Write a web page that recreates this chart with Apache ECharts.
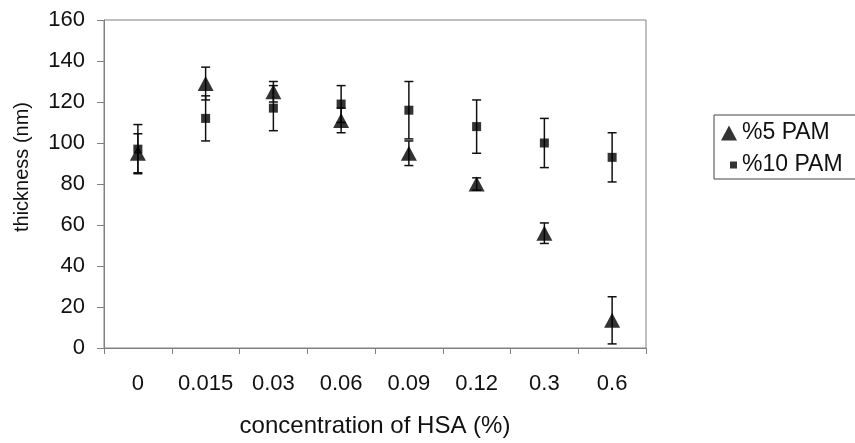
<!DOCTYPE html>
<html>
<head>
<meta charset="utf-8">
<script src="https://cdn.jsdelivr.net/npm/echarts@6/dist/echarts.min.js"></script>
<style>
  html, body { margin: 0; padding: 0; background: #fff; }
  #chart { width: 855px; height: 443px; }
</style>
</head>
<body>
<div id="chart"></div>
<script>
// x categories (HSA concentration, %)
const categories = ["0", "0.015", "0.03", "0.06", "0.09", "0.12", "0.3", "0.6"];
const yTicks = [0, 20, 40, 60, 80, 100, 120, 140, 160];

// thickness (nm)
const pam5 = [95, 129, 125, 111, 95, 80, 56, 13.5];
const pam5Err = [9.5, 8, 5, 6, 6, 3, 5, 11.5];
const pam10 = [97, 112, 117, 119, 116, 108, 100, 93];
const pam10Err = [12, 11, 11, 9, 14, 13, 12, 12];

const FONT = "Liberation Sans";
const AXIS = "#808080";

// [category index, low, high]
const errData = (vals, errs) => vals.map((v, i) => [i, v - errs[i], v + errs[i]]);

function renderErr(params, api) {
  const lo = api.coord([api.value(0), api.value(1)]);
  const hi = api.coord([api.value(0), api.value(2)]);
  const w = 4.5;
  const style = { stroke: "#111", lineWidth: 1.5 };
  return {
    type: "group",
    children: [
      { type: "line", shape: { x1: lo[0], y1: lo[1], x2: hi[0], y2: hi[1] }, style },
      { type: "line", shape: { x1: hi[0] - w, y1: hi[1], x2: hi[0] + w, y2: hi[1] }, style },
      { type: "line", shape: { x1: lo[0] - w, y1: lo[1], x2: lo[0] + w, y2: lo[1] }, style },
    ],
  };
}

const chart = echarts.init(document.getElementById("chart"));

const option = {
  animation: false,
  textStyle: { fontFamily: FONT, color: "#111" },
  grid: {
    left: 104, right: 209, top: 20, bottom: 95,
    show: true, borderColor: AXIS, borderWidth: 1,
  },
  legend: [
    {
      left: 721, top: 121, padding: 0,
      itemWidth: 16, itemHeight: 15,
      data: [{ name: "%5 PAM", icon: "triangle" }],
      textStyle: { fontFamily: FONT, fontSize: 23, color: "#111", lineHeight: 24 },
    },
    {
      left: 730, top: 153, padding: 0,
      itemWidth: 7, itemHeight: 7,
      data: [{ name: "%10 PAM", icon: "rect" }],
      textStyle: { fontFamily: FONT, fontSize: 23, color: "#111", lineHeight: 24 },
    },
  ],
  graphic: [
    {
      type: "rect",
      shape: { x: 714, y: 115, width: 150, height: 64 },
      style: { fill: "none", stroke: "#444", lineWidth: 1 },
      silent: true,
    },
  ],
  xAxis: {
    type: "category",
    data: categories,
    boundaryGap: true,
    name: "concentration of HSA (%)",
    nameLocation: "middle",
    nameGap: 66,
    nameTextStyle: { fontFamily: FONT, fontSize: 24, color: "#111" },
    axisLine: { lineStyle: { color: AXIS, width: 1 } },
    axisTick: { show: true, interval: 0, length: 6, lineStyle: { color: AXIS } },
    axisLabel: { interval: 0, fontFamily: FONT, fontSize: 22, color: "#111", margin: 25 },
    splitLine: { show: false },
  },
  yAxis: {
    type: "value",
    min: yTicks[0],
    max: yTicks[yTicks.length - 1],
    interval: 20,
    name: "thickness (nm)",
    nameLocation: "middle",
    nameGap: 72,
    nameTextStyle: { fontFamily: FONT, fontSize: 20, color: "#111", padding: [0, 0, 0, 34] },
    axisLine: { show: true, lineStyle: { color: AXIS, width: 1 } },
    axisTick: { show: true, length: 7, lineStyle: { color: AXIS } },
    axisLabel: { fontFamily: FONT, fontSize: 22, color: "#111", margin: 19 },
    splitLine: { show: false },
  },
  series: [
    {
      name: "err10",
      type: "custom",
      renderItem: renderErr,
      encode: { x: 0, y: [1, 2] },
      data: errData(pam10, pam10Err),
      z: 2,
    },
    {
      name: "err5",
      type: "custom",
      renderItem: renderErr,
      encode: { x: 0, y: [1, 2] },
      data: errData(pam5, pam5Err),
      z: 2,
    },
    {
      name: "%10 PAM",
      type: "scatter",
      symbol: "rect",
      symbolSize: 9,
      itemStyle: { color: "#000" },
      data: pam10,
      z: 3,
    },
    {
      name: "%5 PAM",
      type: "scatter",
      symbol: "triangle",
      symbolSize: [16, 15],
      itemStyle: { color: "#000" },
      data: pam5,
      z: 4,
    },
  ],
};

chart.setOption(option);
</script>
</body>
</html>
